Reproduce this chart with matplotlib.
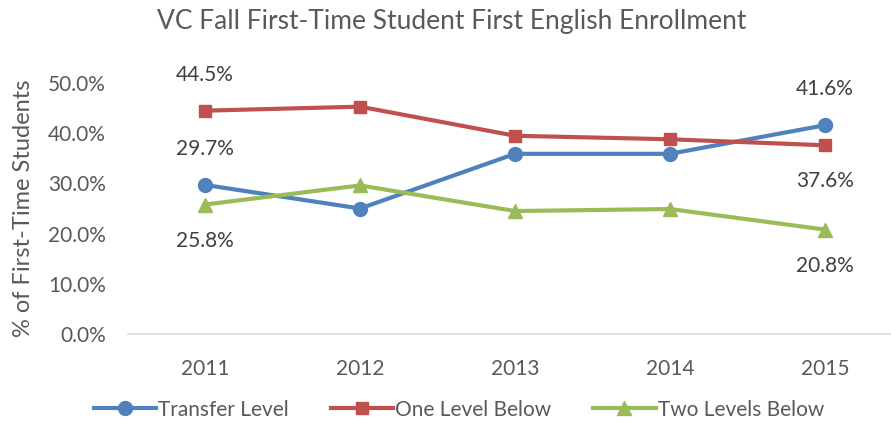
import matplotlib.pyplot as plt
from matplotlib.ticker import PercentFormatter

plt.rcParams['font.family'] = ['Lato', 'DejaVu Sans']

years = ['2011', '2012', '2013', '2014', '2015']
transfer = [29.7, 25.0, 35.9, 35.9, 41.6]
one_below = [44.5, 45.3, 39.5, 38.8, 37.6]
two_below = [25.8, 29.6, 24.5, 24.9, 20.8]

blue = '#4F81BD'
red = '#C0504D'
green = '#9BBB59'
grey = '#595959'

fig = plt.figure(figsize=(8.91, 4.21), dpi=100)
ax = fig.add_axes([0.1437, 0.2067, 0.8563, 0.596])

x = range(len(years))
ax.plot(x, transfer, color=blue, lw=3, marker='o', ms=10, label='Transfer Level')
ax.plot(x, one_below, color=red, lw=3, marker='s', ms=9, label='One Level Below')
ax.plot(x, two_below, color=green, lw=3, marker='^', ms=10, label='Two Levels Below')

# value labels on first and last year only
labels = [(transfer, 1), (one_below, 1), (two_below, -1)]
end_labels = [(transfer, 1), (one_below, -1), (two_below, -1)]
for (vals, d0), (_, d1) in zip(labels, end_labels):
    for i, d in ((0, d0), (4, d1)):
        ax.annotate(f'{vals[i]:.1f}%', (i, vals[i]), xytext=(0, 26 * d),
                    textcoords='offset points', ha='center', va='center',
                    fontsize=15, color='#404040', annotation_clip=False)

ax.set_xlim(-0.497, 4.426)
ax.set_ylim(0, 50)
ax.set_xticks(list(x))
ax.set_xticklabels(years)
ax.set_yticks([0, 10, 20, 30, 40, 50])
ax.yaxis.set_major_formatter(PercentFormatter(decimals=1))
ax.tick_params(length=0, labelsize=15, colors=grey, pad=16)
ax.tick_params(axis='x', pad=18)

for side in ['top', 'right', 'left']:
    ax.spines[side].set_visible(False)
ax.spines['bottom'].set_color('#D9D9D9')
ax.spines['bottom'].set_linewidth(1.2)

ax.set_ylabel('% of First-Time Students', fontsize=17, color=grey, labelpad=10)
fig.text(0.507, 0.95, 'VC Fall First-Time Student First English Enrollment',
         ha='center', va='center', fontsize=19, color=grey)

fig.legend(loc='center', bbox_to_anchor=(0.515, 0.027), ncol=3, frameon=False,
           fontsize=15, handlelength=3.0, handletextpad=0.1, columnspacing=2.0,
           labelcolor=grey)

fig.savefig('out.png', dpi=100)
